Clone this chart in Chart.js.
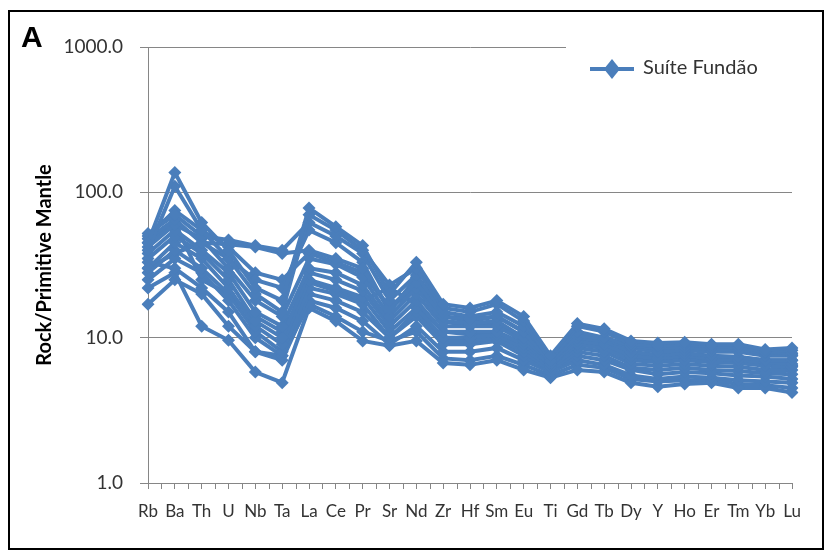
<!DOCTYPE html>
<html lang="pt-BR">
<head>
  <meta charset="UTF-8" />
  <title>Suíte Fundão - Spidergram</title>
  <script src="https://cdn.jsdelivr.net/npm/chart.js"></script>
  <style>
    body { margin: 0; background: #fff; }
    #quadro { position: absolute; left: 8px; top: 10px; width: 812px; height: 536px; border: 2px solid #000; pointer-events: none; }
    #letra { position: absolute; left: 21px; top: 20px; font: bold 30px "Liberation Sans", Arial, sans-serif; color: #000; }
    #grafico { position: absolute; left: 0; top: 0; }
  </style>
</head>
<body>

<canvas id="grafico" width="830" height="552"></canvas>
<div id="quadro"></div>
<div id="letra">A</div>

<script>
  // elementos normalizados ao manto primitivo
  const elementos = ['Rb','Ba','Th','U','Nb','Ta','La','Ce','Pr','Sr','Nd','Zr','Hf','Sm','Eu','Ti','Gd','Tb','Dy','Y','Ho','Er','Tm','Yb','Lu'];

  const amostra01 = [45, 137, 62, 40, 22, 18, 78, 58, 43, 20, 33, 17, 16, 18, 14, 7.5, 12.5, 11.5, 9.5, 9.2, 9.3, 9.0, 9.0, 8.3, 8.5];
  const amostra02 = [40, 110, 55, 35, 20, 15, 70, 55, 40, 23, 30, 16, 15, 17, 13, 7.0, 12, 11, 9.0, 8.8, 9.0, 8.7, 8.6, 8.0, 8.2];
  const amostra03 = [52, 70, 50, 47, 43, 40, 62, 50, 38, 18, 27, 15, 14, 15, 12, 7.2, 11, 10, 8.8, 8.5, 8.6, 8.4, 8.3, 7.9, 7.8];
  const amostra04 = [48, 65, 45, 44, 42, 38, 40, 35, 30, 16, 24, 14, 13.5, 14, 11, 6.8, 10.5, 9.8, 8.5, 8.0, 8.2, 8.0, 8.0, 7.5, 7.5];
  const amostra05 = [42, 60, 48, 30, 18, 14, 35, 32, 26, 14, 22, 13, 12.5, 13, 10, 6.8, 10, 9.5, 8.0, 7.6, 7.8, 7.5, 7.4, 7.0, 7.0];
  const amostra06 = [38, 55, 40, 28, 15, 12, 30, 28, 23, 13, 20, 12, 12, 12, 9.5, 6.5, 9.5, 9.0, 7.5, 7.2, 7.5, 7.2, 7.0, 6.8, 6.6];
  const amostra07 = [35, 50, 38, 25, 13, 10, 28, 25, 21, 12, 18, 11, 11, 11, 9.0, 6.5, 9.0, 8.5, 7.0, 6.8, 7.0, 6.8, 6.7, 6.4, 6.3];
  const amostra08 = [30, 45, 35, 22, 12, 9, 25, 22, 19, 11, 16, 10, 10, 10.5, 8.5, 6.2, 8.5, 8.0, 6.6, 6.4, 6.6, 6.4, 6.3, 6.0, 6.0];
  const amostra09 = [28, 40, 30, 20, 11, 8, 22, 20, 17, 10, 15, 9.5, 9.5, 10, 8.0, 6.0, 8.0, 7.5, 6.2, 6.0, 6.2, 6.0, 5.9, 5.7, 5.6];
  const amostra10 = [25, 35, 28, 18, 10, 7.5, 20, 18, 15, 10, 14, 9, 9, 9.5, 7.5, 6.0, 7.5, 7.0, 6.0, 5.6, 5.8, 5.7, 5.5, 5.4, 5.2];
  const amostra11 = [33, 30, 22, 15, 8, 7, 18, 16, 13, 9, 12, 8, 8, 8.5, 7.0, 5.8, 7.0, 6.5, 5.5, 5.2, 5.4, 5.3, 5.1, 5.0, 4.9];
  const amostra12 = [22, 28, 12, 9.6, 5.8, 4.9, 16, 13, 9.5, 8.8, 9.5, 6.7, 6.5, 7.0, 6.0, 5.3, 6.0, 5.8, 4.9, 4.6, 4.8, 4.9, 4.5, 4.5, 4.2];
  const amostra13 = [17, 25, 20, 12, 8, 7.5, 17, 14, 11, 9.5, 11, 7.2, 7.0, 7.5, 6.5, 5.5, 6.5, 6.2, 5.2, 5.0, 5.1, 5.1, 4.8, 4.7, 4.5];
  const amostra14 = [30, 38, 45, 35, 25, 22, 55, 45, 33, 15, 26, 14, 13, 14, 11, 7.0, 10.5, 10, 8.8, 8.4, 8.4, 8.2, 8.2, 7.6, 7.6];
  const amostra15 = [45, 62, 25, 20, 14, 11, 24, 21, 18, 22, 17, 11, 10.5, 11, 9.0, 6.5, 9.0, 8.5, 7.2, 7.0, 7.2, 7.0, 6.8, 6.5, 6.4];
  const amostra16 = [50, 75, 55, 42, 28, 25, 38, 33, 28, 16, 22, 13, 12, 12.5, 10, 6.8, 9.5, 9.0, 7.8, 7.5, 7.6, 7.4, 7.3, 7.0, 7.0];

  const amostras = [amostra01, amostra02, amostra03, amostra04, amostra05, amostra06, amostra07, amostra08,
                    amostra09, amostra10, amostra11, amostra12, amostra13, amostra14, amostra15, amostra16];

  const marcasY = [1, 10, 100, 1000];
  const nomeSuite = 'Suíte Fundão';
  const azul = '#4a7ebb';
  const cinza = '#868686';
  const fonte = 'Lato, "Open Sans", sans-serif';

  // legenda desenhada à mão, com fundo branco por cima da grade
  const legendaSuite = {
    id: 'legendaSuite',
    afterDraw(chart) {
      const ctx = chart.ctx;
      ctx.save();
      ctx.fillStyle = '#fff';
      ctx.fillRect(566, 36, 226, 64);
      ctx.strokeStyle = azul;
      ctx.lineWidth = 4;
      ctx.beginPath();
      ctx.moveTo(590, 69);
      ctx.lineTo(634, 69);
      ctx.stroke();
      ctx.fillStyle = azul;
      ctx.beginPath();
      ctx.moveTo(612, 59);
      ctx.lineTo(620, 69);
      ctx.lineTo(612, 79);
      ctx.lineTo(604, 69);
      ctx.closePath();
      ctx.fill();
      ctx.fillStyle = '#333';
      ctx.font = '20px ' + fonte;
      ctx.textBaseline = 'middle';
      ctx.fillText(nomeSuite, 643, 68);
      ctx.restore();
    }
  };

  // marcas menores entre as categorias do eixo x
  const marcasMenores = {
    id: 'marcasMenores',
    afterDraw(chart) {
      const x = chart.scales.x;
      const ctx = chart.ctx;
      ctx.save();
      ctx.strokeStyle = cinza;
      ctx.lineWidth = 1;
      ctx.beginPath();
      for (let i = 0; i < elementos.length - 1; i++) {
        const px = Math.round(x.getPixelForValue(i + 0.5)) + 0.5;
        ctx.moveTo(px, x.top);
        ctx.lineTo(px, x.top + 6);
      }
      ctx.stroke();
      ctx.restore();
    }
  };

  new Chart(document.getElementById('grafico').getContext('2d'), {
    type: 'line',
    data: {
      labels: elementos,
      datasets: amostras.map(valores => ({
        label: nomeSuite,
        data: valores,
        borderColor: azul,
        backgroundColor: azul,
        borderWidth: 4,
        pointStyle: 'rectRot',
        pointRadius: 6.5,
        pointBorderWidth: 0,
        tension: 0
      }))
    },
    options: {
      responsive: false,
      animation: false,
      layout: { padding: { left: 30, top: 47, right: 38, bottom: 0 } },
      plugins: { legend: { display: false }, tooltip: { enabled: false } },
      scales: {
        x: {
          offset: false,
          grid: { drawOnChartArea: false, drawTicks: true, tickLength: 6, color: cinza },
          border: { color: cinza },
          ticks: { autoSkip: false, maxRotation: 0, padding: 12, color: '#333', font: { family: fonte, size: 17 } },
          afterFit(scale) { scale.height = 69; }
        },
        y: {
          type: 'logarithmic',
          min: 1,
          max: 1000,
          afterBuildTicks(scale) { scale.ticks = marcasY.map(v => ({ value: v })); },
          grid: { color: cinza, tickLength: 8 },
          border: { color: cinza },
          ticks: {
            padding: 17,
            color: '#333',
            font: { family: fonte, size: 19 },
            callback: v => Number(v).toFixed(1)
          },
          title: {
            display: true,
            text: 'Rock/Primitive Mantle',
            color: '#000',
            font: { family: fonte, size: 20, weight: 'bold' },
            padding: { top: 3, bottom: 0 }
          },
          afterFit(scale) { scale.width = 118; }
        }
      }
    },
    plugins: [marcasMenores, legendaSuite]
  });
</script>

</body>
</html>
